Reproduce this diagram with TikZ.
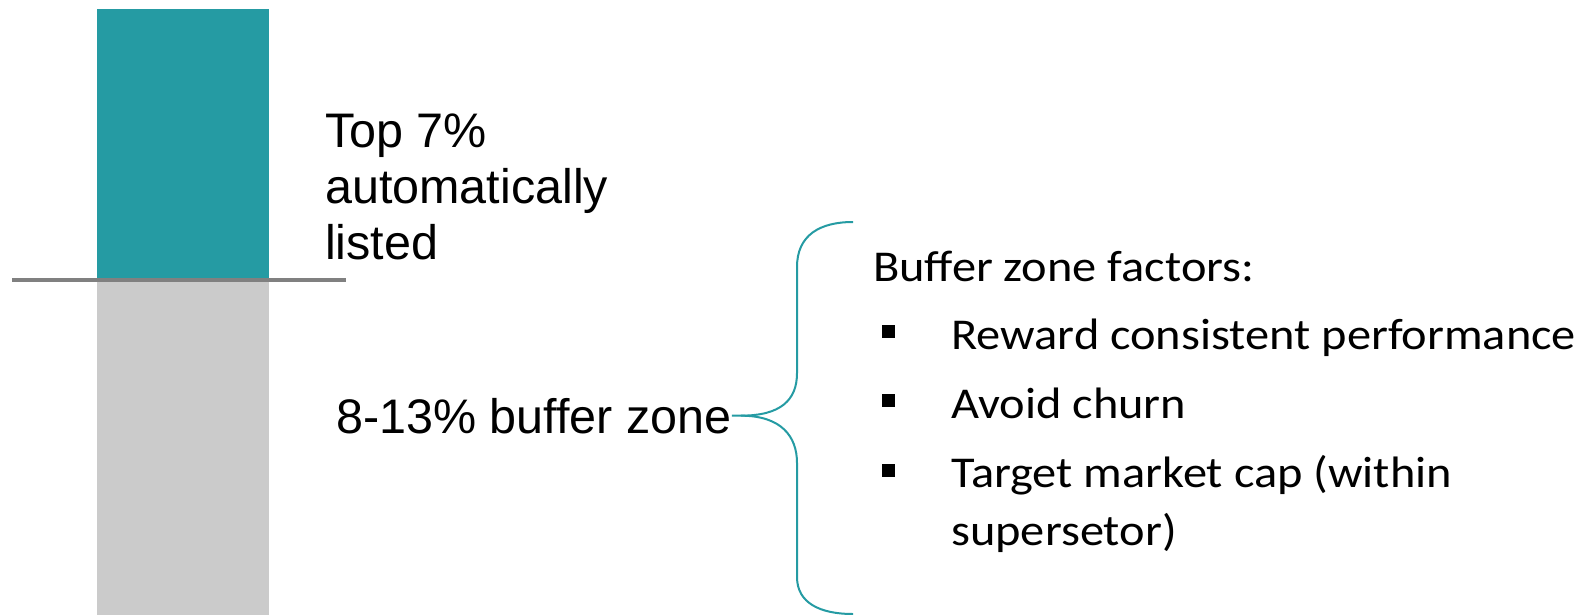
\documentclass[tikz,border=0pt]{standalone}
\usepackage{fontspec}
\newfontfamily\arialfont{Liberation Sans}
\newfontfamily\calfont[FakeStretch=1.1]{Carlito}
\definecolor{barteal}{HTML}{259BA3}
\definecolor{bargray}{HTML}{CBCBCB}
\definecolor{linegray}{HTML}{808080}
\tikzset{
  bigtext/.style={anchor=base west, inner sep=0pt, align=left,
    font=\arialfont\fontsize{48.5}{56}\selectfont},
  listtext/.style={anchor=base west, inner sep=0pt, align=left,
    font=\calfont\fontsize{44}{58}\selectfont},
  bulletsq/.style={fill=black, minimum size=13pt, inner sep=0pt},
  bracepath/.style={draw=barteal, line width=2pt},
}
\begin{document}
\begin{tikzpicture}[x=1pt,y=-1pt]
    \useasboundingbox (0,0) rectangle (1581,615);
    % bars
    \fill[barteal] (97,9) rectangle (269,280);
    \fill[bargray] (97,280) rectangle (269,615);
    \draw[linegray, line width=4pt] (12,279.5) -- (346,279.5);
    % labels left (base = last line)
    \node[bigtext] (top) at (325,259) {Top 7\%\\automatically\\listed};
    \node[bigtext] (zone) at (336,433) {8-13\% buffer zone};
    % brace
    \coordinate (tip) at ([xshift=9pt]zone.east);
    \coordinate (upper) at (853,222);
    \coordinate (lower) at (853,614);
    \draw[bracepath] (zone.east) -- (tip)
        .. controls ([xshift=40pt]tip) and (797,400) .. (797,373)
        -- (797,267) .. controls (797,235) and (820,222) .. (upper);
    \draw[bracepath] (tip)
        .. controls ([xshift=40pt]tip) and (797,436) .. (797,463)
        -- (797,577) .. controls (797,603) and (820,614) .. (lower);
    % factors
    \node[listtext] (head) at (873,281) {Buffer zone factors:};
    \node[listtext] (item1) at (951,349) {Reward consistent performance};
    \node[listtext] (item2) at (951,418) {Avoid churn};
    \node[listtext] (item3) at (951,545) {Target market cap (within\\supersetor)};
    \node[bulletsq] (b1) at (888,331) {};
    \node[bulletsq] (b2) at (888,400) {};
    \node[bulletsq] (b3) at (888,470) {};
\end{tikzpicture}
\end{document}
